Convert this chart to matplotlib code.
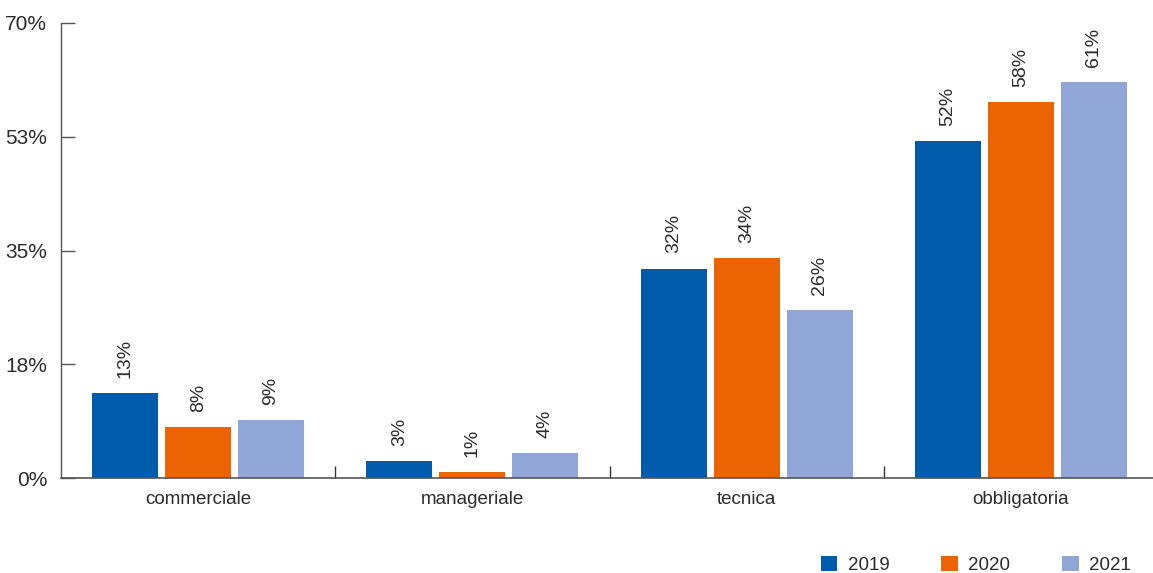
import matplotlib
matplotlib.use("Agg")
import matplotlib.pyplot as plt
from matplotlib.patches import Patch
import numpy as np

categories = ["commerciale", "manageriale", "tecnica", "obbligatoria"]
years = ["2019", "2020", "2021"]
values_2019 = [13.1, 2.6, 32.2, 51.8]
values_2020 = [7.85, 0.9, 33.8, 57.8]
values_2021 = [8.9, 3.85, 25.8, 60.9]
yticks = [0, 17.5, 35, 52.5, 70]
ytick_labels = ["0%", "18%", "35%", "53%", "70%"]

colors = ["#005BAA", "#EC6304", "#8FA6D6"]
text_color = "#2b2b2b"
axis_color = "#555555"

plt.rcParams["font.family"] = ["Liberation Sans", "DejaVu Sans"]

fig = plt.figure(figsize=(11.53, 5.73), dpi=100)
ax = fig.add_axes([61 / 1153, 95 / 573, 1 - 61 / 1153, 455 / 573])

series = [values_2019, values_2020, values_2021]
x = np.arange(len(categories))
bar_w = 0.241
step = 0.266
for i, (vals, col) in enumerate(zip(series, colors)):
    pos = x + (i - 1) * step
    ax.bar(pos, vals, width=bar_w, color=col, zorder=2)
    for px, v in zip(pos, vals):
        ax.annotate(f"{int(round(v))}%", (px, v), xytext=(0, 11),
                    textcoords="offset points", rotation=90,
                    ha="center", va="bottom", fontsize=14, color=text_color)

ax.set_xlim(-0.5, 3.5 - 5 / 274)
ax.set_ylim(0, 70)
ax.set_yticks(yticks)
ax.set_yticklabels(ytick_labels)
ax.set_xticks(x)
ax.set_xticklabels(categories)
ax.set_xticks([0.5, 1.5, 2.5], minor=True)

for s in ["top", "right"]:
    ax.spines[s].set_visible(False)
ax.spines["left"].set_color(axis_color)
ax.spines["bottom"].set_color(axis_color)
ax.spines["left"].set_linewidth(1.0)
ax.spines["bottom"].set_linewidth(1.2)

ax.tick_params(axis="y", direction="in", length=10, width=1.0, color=axis_color,
               labelsize=15, labelcolor=text_color, pad=10)
ax.tick_params(axis="x", which="major", length=0, labelsize=13.5,
               labelcolor=text_color, pad=9)
ax.tick_params(axis="x", which="minor", direction="in", length=9, width=1.0,
               color="#333333")

handles = [Patch(facecolor=c, edgecolor="none", label=y) for c, y in zip(colors, years)]
fig.legend(handles=handles, loc="lower right", bbox_to_anchor=(0.9955, -0.031),
           ncol=3, frameon=False, fontsize=13.5, handlelength=0.9, handleheight=0.9,
           handletextpad=0.55, columnspacing=2.75, labelcolor=text_color)

fig.savefig("out.png", dpi=100)
